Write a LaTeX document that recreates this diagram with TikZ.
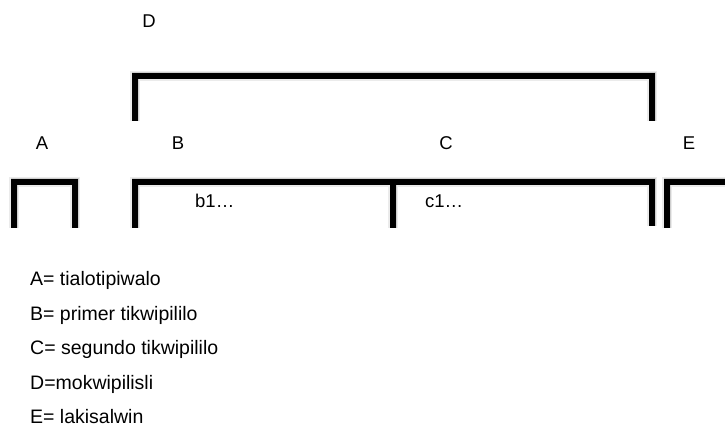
\documentclass[tikz,border=0pt]{standalone}
\usepackage{fontspec}
\setmainfont{Liberation Sans}
\begin{document}
\begin{tikzpicture}[x=1pt,y=-1pt,
  brk/.style={line width=6pt,line join=miter,line cap=butt},
  shd/.style={line width=7pt,line join=miter,black!22,opacity=0.8},
  shd2/.style={line width=10pt,line join=miter,black!8},
  lbl/.style={font=\fontsize{18.5}{21}\selectfont,inner sep=0pt,anchor=base},
  leg/.style={font=\fontsize{19.5}{23}\selectfont,inner sep=0pt,anchor=base west}]
\useasboundingbox (0,0) rectangle (725,427);
\clip (0,0) rectangle (725,427);
% coordinates
\coordinate (a1) at (14,228); \coordinate (a2) at (14,182);
\coordinate (a3) at (75,182); \coordinate (a4) at (75,228);
\coordinate (b1) at (135,228); \coordinate (b2) at (135,182);
\coordinate (c3) at (652,182); \coordinate (c4) at (652,226);
\coordinate (m1) at (393,182); \coordinate (m2) at (393,228);
\coordinate (e1) at (667,228); \coordinate (e2) at (667,182);
\coordinate (e3) at (730,182);
\coordinate (d1) at (135,121); \coordinate (d2) at (135,76);
\coordinate (d3) at (652,76); \coordinate (d4) at (652,121);
% shadows
\foreach \s in {shd2, shd}{
\begin{scope}[shift={(2.5,3.5)}]
\draw[\s] (a1) -- (a2) -- (a3) -- (a4);
\draw[\s] (b1) -- (b2) -- (c3) -- (c4);
\draw[\s] (m1) -- (m2);
\draw[\s] (e1) -- (e2) -- (e3);
\draw[\s] (d1) -- (d2) -- (d3) -- (d4);
\end{scope}}
% brackets
\draw[brk] (a1) -- (a2) -- (a3) -- (a4);
\draw[brk] (b1) -- (b2) -- (c3) -- (c4);
\draw[brk] (m1) -- (m2);
\draw[brk] (e1) -- (e2) -- (e3);
\draw[brk] (d1) -- (d2) -- (d3) -- (d4);
% labels
\node[lbl] (lD) at (149,28) {D};
\node[lbl] (lA) at (42,150) {A};
\node[lbl] (lB) at (178,150) {B};
\node[lbl] (lC) at (446,150) {C};
\node[lbl] (lE) at (689,150) {E};
\node[lbl,anchor=base west] (lb1) at (195,208) {b1…};
\node[lbl,anchor=base west] (lc1) at (425,208) {c1…};
% legend
\node[leg] (g1) at (30,285.5) {A= tialotipiwalo};
\node[leg] (g2) at (30,320) {B= primer tikwipililo};
\node[leg] (g3) at (30,354.5) {C= segundo tikwipililo};
\node[leg] (g4) at (30,389) {D=mokwipilisli};
\node[leg] (g5) at (30,423.5) {E= lakisalwin};
\end{tikzpicture}
\end{document}
